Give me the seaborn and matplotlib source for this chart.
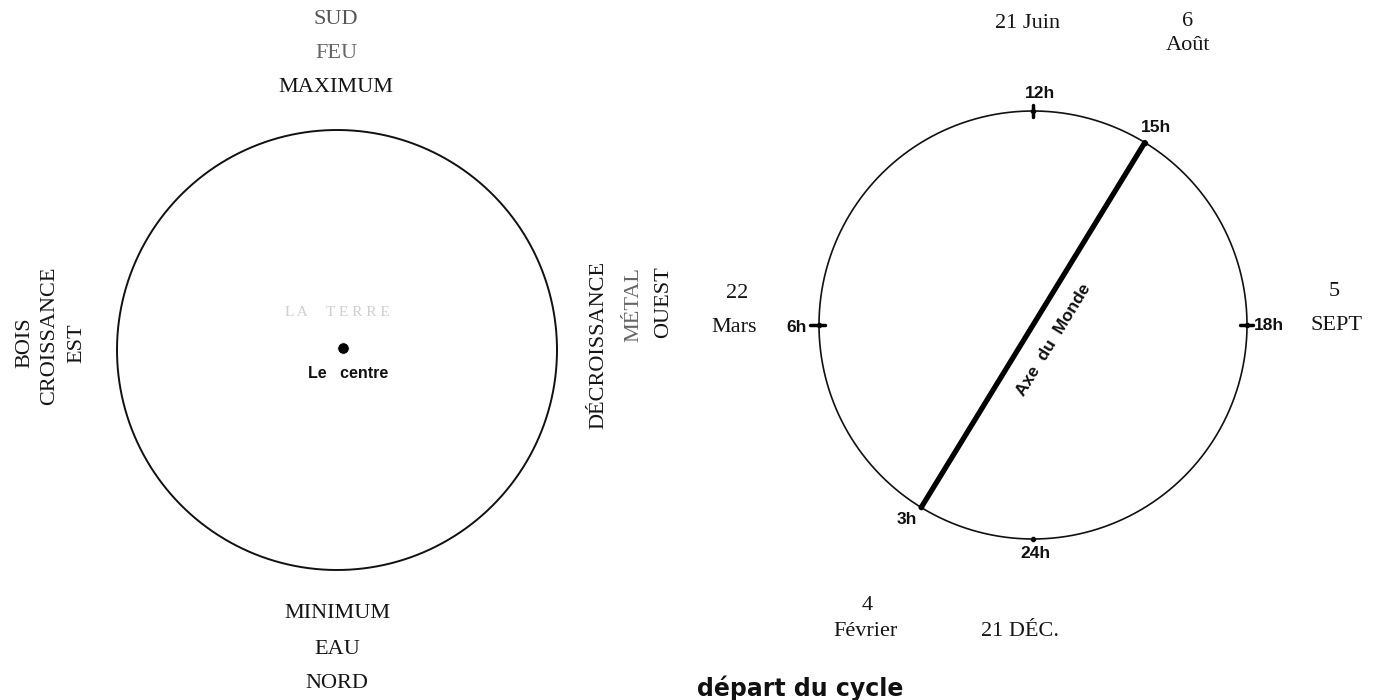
import numpy as np
import matplotlib
matplotlib.use("Agg")
import matplotlib.pyplot as plt
import seaborn as sns
import pandas as pd

# Left figure: the elements around "Le centre"
top_words = ["SUD", "FEU", "MAXIMUM"]
bottom_words = ["MINIMUM", "EAU", "NORD"]
east_words = ["BOIS", "CROISSANCE", "EST"]
west_words = ["DÉCROISSANCE", "MÉTAL", "OUEST"]
earth_word = "L A     T E R R E"
centre_word = "Le   centre"

# Right figure: hours on the circle (degrees, 0 = right, counter-clockwise)
hour_labels = ["12h", "15h", "18h", "24h", "3h", "6h"]
hour_angles = [90, 58.5, 0, -90, 238.5, 180]
date_labels = ["21 Juin", "6", "Août", "5", "SEPT", "21 DÉC.", "4", "Février", "22", "Mars"]
axis_label = "Axe  du  Monde"
caption = "départ du cycle"

sns.set_theme(style="white")
plt.rcParams["font.family"] = ["Liberation Serif", "DejaVu Serif"]

fig = plt.figure(figsize=(13.78, 7.0), dpi=100)
ax = fig.add_axes([0, 0, 1, 1])
ax.set_xlim(0, 1378)
ax.set_ylim(700, 0)
ax.set_axis_off()

serif = dict(ha="center", va="center", fontsize=16, color="#151515")
sans = dict(ha="center", va="center", fontsize=12.5, color="#111111",
            family=["Liberation Sans", "DejaVu Sans"], fontweight="bold")

# ---- left circle
lc, lr = (337, 350), 220
t = np.linspace(0, 2 * np.pi, 400)
ax.plot(lc[0] + lr * np.cos(t), lc[1] + lr * np.sin(t), color="#111111", lw=1.4)

for word, y, col in zip(top_words, [20, 53, 87], ["#555555", "#666666", "#151515"]):
    ax.text(336, y, word, **{**serif, "color": col})
for word, y in zip(bottom_words, [614, 650, 684]):
    ax.text(337, y, word, **serif)
for word, x, y in zip(east_words, [25, 50, 77], [343, 336, 343]):
    ax.text(x, y, word, rotation=90, **serif)
for word, x, y, col in zip(west_words, [599, 634, 664], [345, 305, 302],
                           ["#151515", "#666666", "#151515"]):
    ax.text(x, y, word, rotation=90, **{**serif, "color": col})

ax.text(337, 313, earth_word, **{**serif, "fontsize": 11, "color": "#cfcfcf"})
sns.scatterplot(x=[343], y=[348], s=70, color="black", ax=ax, legend=False)
ax.text(348, 373, centre_word, **{**sans, "fontsize": 11.5})

# ---- right circle
rc, rr = (1033, 325), 214
ax.plot(rc[0] + rr * np.cos(t), rc[1] + rr * np.sin(t), color="#111111", lw=1.2)

ang = np.radians(hour_angles)
hx = rc[0] + rr * np.cos(ang)
hy = rc[1] - rr * np.sin(ang)
hours = pd.DataFrame({"label": hour_labels, "x": hx, "y": hy})

# axis of the world between 3h and 15h
axis_df = hours[hours["label"].isin(["3h", "15h"])]
sns.lineplot(data=axis_df, x="x", y="y", sort=False, estimator=None,
             color="black", lw=3.8, ax=ax)
sns.scatterplot(data=hours, x="x", y="y", s=18, color="black", ax=ax, legend=False)

# small tick marks at 12h, 6h, 18h
ax.plot([hx[0], hx[0]], [hy[0] - 6, hy[0] + 6], color="black", lw=2.5)
ax.plot([hx[5] - 9, hx[5] + 6], [hy[5], hy[5]], color="black", lw=2.5)
ax.plot([hx[2] - 7, hx[2] + 6], [hy[2], hy[2]], color="black", lw=2.5)

hour_pos = [(1040, 93), (1156, 127), (1269, 325), (1035, 553), (907, 520), (797, 328)]
for lab, (x, y) in zip(hour_labels, hour_pos):
    ax.text(x, y, lab, **sans)

date_pos = [(1028, 24), (1188, 22), (1188, 46), (1334, 292), (1336, 326),
            (1020, 632), (867, 606), (866, 632), (737, 293), (734, 327)]
for lab, (x, y) in zip(date_labels, date_pos):
    ax.text(x, y, lab, **serif)

ang_axis = np.degrees(np.arctan2(hy[4] - hy[1], hx[1] - hx[4]))
ax.text(1054, 340, axis_label, rotation=ang_axis, rotation_mode="anchor", **sans)

ax.text(800, 688, caption, ha="center", va="center", fontsize=17,
        family=["DejaVu Sans"], fontweight="heavy", color="#111111")

fig.savefig("out.png", dpi=100)
